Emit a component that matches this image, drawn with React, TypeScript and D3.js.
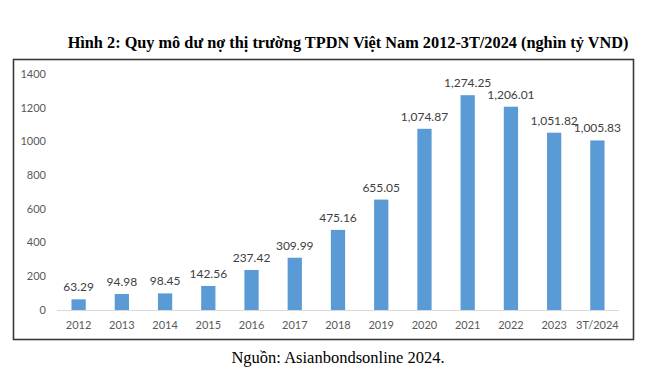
import { useEffect, useRef } from "react"
import * as d3 from "d3"

const years = ["2012", "2013", "2014", "2015", "2016", "2017", "2018", "2019", "2020", "2021", "2022", "2023", "3T/2024"]
const debt = [63.29, 94.98, 98.45, 142.56, 237.42, 309.99, 475.16, 655.05, 1074.87, 1274.25, 1206.01, 1051.82, 1005.83]
const yTicks = [0, 200, 400, 600, 800, 1000, 1200, 1400]

const title = "Hình 2: Quy mô dư nợ thị trường TPDN Việt Nam 2012-3T/2024 (nghìn tỷ VND)"
const source = "Nguồn: Asianbondsonline 2024."

export default function App() {
    const svgRef = useRef<SVGSVGElement>(null)
    const width = 651
    const height = 369

    useEffect(() => {
        const svg = d3.select(svgRef.current)
        svg.selectAll("*").remove()

        const plot = { left: 57, right: 619, top: 74, bottom: 310 }
        const sans = "Lato, 'Open Sans', sans-serif"
        const serif = "'Liberation Serif', 'Times New Roman', serif"

        const x = d3.scaleBand()
            .domain(years)
            .range([plot.left, plot.right])
            .paddingInner(0.67)
            .paddingOuter(0.335)

        const y = d3.scaleLinear()
            .domain([0, 1400])
            .range([plot.bottom, plot.top])

        // title
        svg.append("text")
            .attr("x", 348)
            .attr("y", 48)
            .attr("text-anchor", "middle")
            .attr("font-family", serif)
            .attr("font-weight", "bold")
            .attr("font-size", 16.3)
            .attr("fill", "#000")
            .text(title)

        // chart frame
        svg.append("rect")
            .attr("x", 13.5)
            .attr("y", 59.5)
            .attr("width", 620)
            .attr("height", 280)
            .attr("fill", "#fff")
            .attr("stroke", "#3a3a3a")
            .attr("stroke-width", 1.6)

        // y axis labels (no line)
        svg.append("g")
            .selectAll("text")
            .data(yTicks)
            .join("text")
            .attr("x", 46)
            .attr("y", d => y(d))
            .attr("dy", "0.35em")
            .attr("text-anchor", "end")
            .attr("font-family", sans)
            .attr("font-size", 11)
            .attr("fill", "#595959")
            .text(d => d)

        // bars
        svg.append("g")
            .selectAll("rect")
            .data(debt)
            .join("rect")
            .attr("x", (d, i) => x(years[i])!)
            .attr("y", d => y(d))
            .attr("width", x.bandwidth())
            .attr("height", d => y(0) - y(d))
            .attr("fill", "#5B9BD5")

        // baseline
        svg.append("line")
            .attr("x1", plot.left)
            .attr("x2", plot.right)
            .attr("y1", y(0) + 0.5)
            .attr("y2", y(0) + 0.5)
            .attr("stroke", "#D9D9D9")
            .attr("stroke-width", 1)

        // value labels
        const fmt = d3.format(",.2f")
        svg.append("g")
            .selectAll("text")
            .data(debt)
            .join("text")
            .attr("x", (d, i) => x(years[i])! + x.bandwidth() / 2)
            .attr("y", d => y(d) - 8)
            .attr("text-anchor", "middle")
            .attr("font-family", sans)
            .attr("font-size", 12)
            .attr("fill", "#404040")
            .text(d => fmt(d))

        // category labels
        svg.append("g")
            .selectAll("text")
            .data(years)
            .join("text")
            .attr("x", d => x(d)! + x.bandwidth() / 2)
            .attr("y", 329)
            .attr("text-anchor", "middle")
            .attr("font-family", sans)
            .attr("font-size", 11)
            .attr("fill", "#595959")
            .text(d => d)

        // source
        svg.append("text")
            .attr("x", 338)
            .attr("y", 363)
            .attr("text-anchor", "middle")
            .attr("font-family", serif)
            .attr("font-size", 16.5)
            .attr("fill", "#000")
            .text(source)
    }, [])

    return (
        <svg
            ref={svgRef}
            width={width}
            height={height}
            viewBox={`0 0 ${width} ${height}`}
            style={{ position: "absolute", left: 0, top: 0, background: "#fff" }}
        ></svg>
    )
}
